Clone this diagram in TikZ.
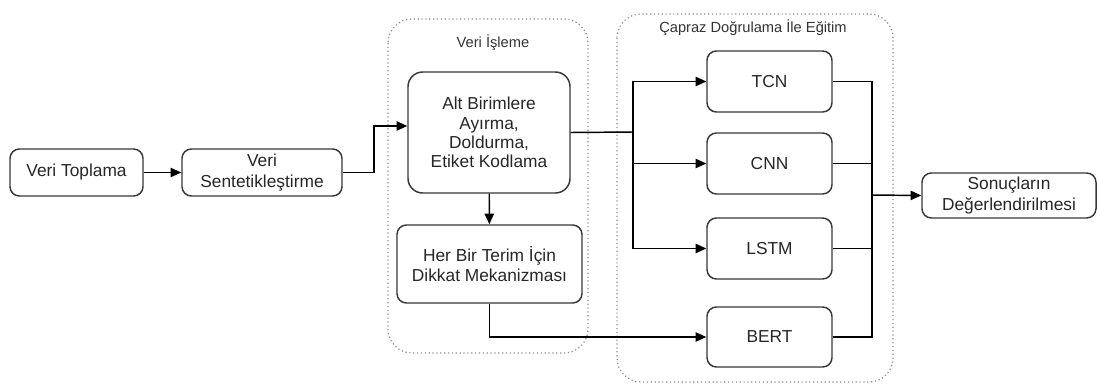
\documentclass[tikz,border=0pt]{standalone}
\usepackage{fontspec}
\setmainfont{Liberation Sans}
\usetikzlibrary{arrows.meta,positioning,calc}

\begin{document}
\begin{tikzpicture}[x=0.75pt,y=-0.75pt,
  box/.style={draw=black!78, line width=1.1pt, rounded corners=7pt, align=center,
    font=\fontsize{13}{14.5}\selectfont, text=black!85, inner sep=1pt},
  group/.style={draw=black!45, line width=0.9pt, dotted, rounded corners=18pt},
  grouplabel/.style={font=\fontsize{11}{13}\selectfont, text=black!80},
  arr/.style={draw=black, line width=1.1pt, -{Triangle[length=8pt,width=7pt]}},
  ln/.style={draw=black, line width=1.1pt}]

\useasboundingbox (0,0) rectangle (1098,389);

% processing groups
\draw[group] (388,19) rectangle (588,353);
\node[grouplabel] (lblproc) at (493,43) {Veri İşleme};
\draw[group] (617,14) rectangle (893,382);
\node[grouplabel] (lbltrain) at (753,28) {Çapraz Doğrulama İle Eğitim};

% steps
\node[box, minimum width=133*0.75pt, minimum height=47*0.75pt] (vt) at (76.5,172.5) {Veri Toplama};
\node[box, minimum width=160*0.75pt, minimum height=47*0.75pt] (vs) at (262,172.5) {Veri\\[1pt]Sentetikleştirme};
\node[box, minimum width=162*0.75pt, minimum height=121*0.75pt, rounded corners=11pt] (alt) at (489,132.5) {Alt Birimlere\\Ayırma,\\Doldurma,\\Etiket Kodlama};
\node[box, minimum width=185*0.75pt, minimum height=78*0.75pt] (her) at (489.5,264) {Her Bir Terim İçin\\[1pt]Dikkat Mekanizması};

\node[box, minimum width=125*0.75pt, minimum height=61*0.75pt] (tcn) at (769.5,81.5) {TCN};
\node[box, minimum width=125*0.75pt, minimum height=61*0.75pt] (cnn) at (769.5,163.5) {CNN};
\node[box, minimum width=125*0.75pt, minimum height=61*0.75pt] (lstm) at (769.5,248.5) {LSTM};
\node[box, minimum width=125*0.75pt, minimum height=60*0.75pt] (bert) at (769.5,337) {BERT};

\node[box, minimum width=174*0.75pt, minimum height=45*0.75pt] (son) at (1009,195.5) {Sonuçların\\[1pt]Değerlendirilmesi};

% junction points
\coordinate (split) at (633,132);
\coordinate (merge) at (872,195);

% connectors
\draw[arr] (vt) -- (vs);
\draw[arr] (vs.east) -- (374,172.5) |- ($(alt.west)+(0,-6.5)$);
\draw[arr] (alt) -- (her);
\draw[ln] (alt.east) -- (split);
\draw[arr] (split) |- (tcn.west);
\draw[arr] (split) |- (cnn.west);
\draw[arr] (split) |- (lstm.west);
\draw[arr] (her.south) |- (bert.west);

\draw[ln] (tcn.east) -| (merge);
\draw[ln] (cnn.east) -| (merge);
\draw[ln] (lstm.east) -| (merge);
\draw[ln] (bert.east) -| (merge);
\draw[arr] (merge) -- (son.west);

\end{tikzpicture}
\end{document}
